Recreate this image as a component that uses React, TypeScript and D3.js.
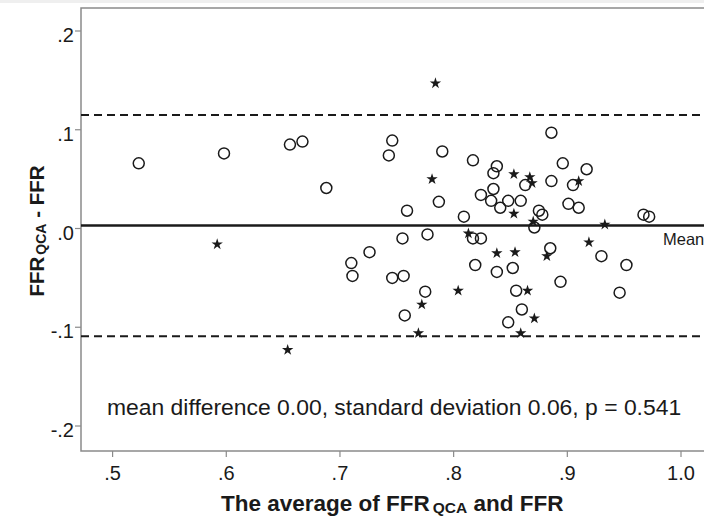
import React from "react";
import { scaleLinear, symbol, symbolStar } from "d3";

const width = 704;
const height = 517;

// group 1 (open circles): average vs difference
const circleAvg = [
  0.523, 0.598, 0.656, 0.667, 0.688, 0.743, 0.746, 0.726, 0.71, 0.711, 0.746,
  0.755, 0.759, 0.756, 0.757, 0.79, 0.817, 0.838, 0.835, 0.835, 0.824, 0.833,
  0.848, 0.859, 0.841, 0.787, 0.809, 0.875, 0.878, 0.886, 0.896, 0.917, 0.886,
  0.905, 0.863, 0.901, 0.91, 0.967, 0.972, 0.871, 0.777, 0.817, 0.824, 0.885,
  0.93, 0.952, 0.819, 0.838, 0.852, 0.894, 0.775, 0.855, 0.946, 0.86, 0.848,
];
const circleDiff = [
  0.066, 0.076, 0.085, 0.088, 0.041, 0.074, 0.089, -0.024, -0.035, -0.048,
  -0.05, -0.01, 0.018, -0.048, -0.088, 0.078, 0.069, 0.063, 0.056, 0.04, 0.034,
  0.028, 0.028, 0.028, 0.021, 0.027, 0.012, 0.018, 0.014, 0.097, 0.066, 0.06,
  0.048, 0.044, 0.044, 0.025, 0.021, 0.014, 0.012, 0.001, -0.006, -0.01, -0.01,
  -0.02, -0.028, -0.037, -0.037, -0.044, -0.04, -0.054, -0.064, -0.063, -0.065,
  -0.082, -0.095,
];

// group 2 (stars)
const starAvg = [
  0.784, 0.781, 0.853, 0.867, 0.869, 0.91, 0.853, 0.87, 0.933, 0.813, 0.919,
  0.838, 0.854, 0.882, 0.804, 0.865, 0.772, 0.871, 0.769, 0.859, 0.592, 0.654,
];
const starDiff = [
  0.147, 0.05, 0.055, 0.052, 0.046, 0.048, 0.015, 0.007, 0.004, -0.005, -0.014,
  -0.025, -0.024, -0.028, -0.063, -0.063, -0.077, -0.091, -0.106, -0.106,
  -0.016, -0.123,
];

const meanDiff = 0.003;
const limits = [0.115, -0.109];

const xTicks = [0.5, 0.6, 0.7, 0.8, 0.9, 1.0];
const xTickLabels = [".5", ".6", ".7", ".8", ".9", "1.0"];
const yTicks = [0.2, 0.1, 0.0, -0.1, -0.2];
const yTickLabels = [".2", ".1", ".0", "-.1", "-.2"];

const note = "mean difference 0.00, standard deviation 0.06, p = 0.541";

const font = "'Liberation Sans', Arial, sans-serif";
const ink = "#1a1a1a";

export default function App() {
  const left = 81;
  const top = 8;
  const bottom = 451;
  const right = 720;

  const x = scaleLinear().domain([0.5, 1.0]).range([112.6, 681]);
  const y = scaleLinear().domain([-0.2, 0.2]).range([426, 31]);

  const star = symbol().type(symbolStar).size(40)();

  return (
    <svg
      width={width}
      height={height}
      style={{ position: "absolute", left: 0, top: 0, background: "#fff" }}
    >
      <rect x={0} y={0} width={width} height={3} fill="#efefef" />
      {/* frame */}
      <path
        d={`M${right},${top}H${left}V${bottom}H${right}`}
        fill="none"
        stroke="#8a8a8a"
        strokeWidth={1.5}
      />

      {/* y axis */}
      {yTicks.map((t, i) => (
        <g key={"y" + i}>
          <line x1={left - 6} x2={left} y1={y(t)} y2={y(t)} stroke="#8a8a8a" strokeWidth={1.2} />
          <text
            x={left - 7}
            y={y(t) + 11}
            textAnchor="end"
            fontFamily={font}
            fontSize={20}
            fill={ink}
          >
            {yTickLabels[i]}
          </text>
        </g>
      ))}

      {/* x axis */}
      {xTicks.map((t, i) => (
        <g key={"x" + i}>
          <line x1={x(t)} x2={x(t)} y1={bottom} y2={bottom + 6} stroke="#8a8a8a" strokeWidth={1.2} />
          <text
            x={x(t)}
            y={bottom + 29}
            textAnchor="middle"
            fontFamily={font}
            fontSize={20}
            fill={ink}
          >
            {xTickLabels[i]}
          </text>
        </g>
      ))}

      {/* reference lines */}
      <line x1={left} x2={right} y1={y(meanDiff)} y2={y(meanDiff)} stroke={ink} strokeWidth={2.5} />
      {limits.map((l, i) => (
        <line
          key={"l" + i}
          x1={left}
          x2={right}
          y1={y(l)}
          y2={y(l)}
          stroke={ink}
          strokeWidth={2}
          strokeDasharray="8,5"
        />
      ))}
      <text x={663} y={y(meanDiff) + 19} fontFamily={font} fontSize={16.5} fill={ink}>
        Mean
      </text>

      {/* points */}
      {circleAvg.map((a, i) => (
        <circle
          key={"c" + i}
          cx={x(a)}
          cy={y(circleDiff[i])}
          r={5.5}
          fill="none"
          stroke={ink}
          strokeWidth={1.5}
        />
      ))}
      {starAvg.map((a, i) => (
        <path
          key={"s" + i}
          d={star}
          transform={`translate(${x(a)},${y(starDiff[i])})`}
          fill={ink}
        />
      ))}

      <text x={107} y={415} fontFamily={font} fontSize={22.9} fill={ink}>
        {note}
      </text>

      {/* axis titles */}
      <text x={221} y={511} fontFamily={font} fontSize={22.5} fontWeight="bold" fill={ink}>
        The average of FFR
        <tspan fontSize={15.5} dx={3} dy={2}>{"QCA"}</tspan>
        <tspan dy={-2}> and FFR</tspan>
      </text>
      <text
        transform="translate(44,231) rotate(-90)"
        textAnchor="middle"
        fontFamily={font}
        fontSize={20.5}
        fontWeight="bold"
        fill={ink}
      >
        FFR
        <tspan fontSize={14} dx={2} dy={2}>{"QCA"}</tspan>
        <tspan dy={-2}> - FFR</tspan>
      </text>
    </svg>
  );
}
